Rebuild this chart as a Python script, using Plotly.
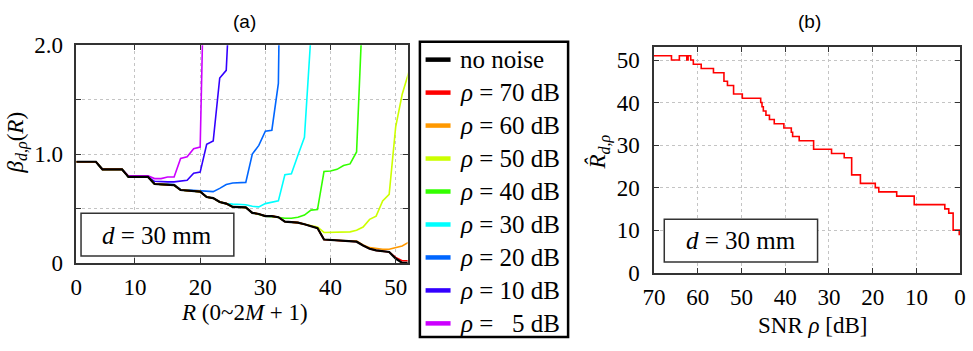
import plotly.graph_objects as go

# ---- (a) beta_{d,rho}(R) versus model order index R ----
R_INDEX = list(range(1, 53))

beta_no_noise = [0.93, 0.93, 0.93, 0.93, 0.86, 0.86, 0.86, 0.86, 0.79, 0.79,
                 0.79, 0.79, 0.725, 0.72, 0.72, 0.715, 0.67, 0.665, 0.66, 0.655,
                 0.605, 0.595, 0.56, 0.545, 0.515, 0.515, 0.51, 0.46, 0.45, 0.43,
                 0.43, 0.42, 0.38, 0.375, 0.37, 0.355, 0.34, 0.32, 0.215, 0.21,
                 0.205, 0.205, 0.2, 0.195, 0.16, 0.13, 0.115, 0.105, 0.1, 0.04,
                 0.0, 0.0]
beta_70db = [0.93, 0.93, 0.93, 0.93, 0.86, 0.86, 0.86, 0.86, 0.79, 0.79,
             0.79, 0.79, 0.725, 0.72, 0.72, 0.715, 0.67, 0.665, 0.66, 0.655,
             0.605, 0.595, 0.56, 0.545, 0.515, 0.515, 0.51, 0.46, 0.45, 0.43,
             0.43, 0.42, 0.38, 0.375, 0.37, 0.355, 0.34, 0.32, 0.215, 0.21,
             0.205, 0.205, 0.2, 0.195, 0.16, 0.13, 0.115, 0.105, 0.1, 0.05,
             0.02, 0.02]
beta_60db = [0.93, 0.93, 0.93, 0.93, 0.86, 0.86, 0.86, 0.86, 0.79, 0.79,
             0.79, 0.79, 0.725, 0.72, 0.72, 0.715, 0.67, 0.665, 0.66, 0.655,
             0.605, 0.595, 0.56, 0.545, 0.515, 0.515, 0.51, 0.46, 0.45, 0.43,
             0.43, 0.42, 0.38, 0.375, 0.37, 0.355, 0.34, 0.32, 0.215, 0.21,
             0.205, 0.205, 0.2, 0.2, 0.165, 0.14, 0.13, 0.125, 0.125, 0.14,
             0.155, 0.19]
beta_50db = [0.93, 0.93, 0.93, 0.93, 0.86, 0.86, 0.86, 0.86, 0.79, 0.79,
             0.79, 0.79, 0.725, 0.72, 0.72, 0.715, 0.67, 0.665, 0.66, 0.655,
             0.605, 0.595, 0.56, 0.545, 0.515, 0.515, 0.51, 0.46, 0.45, 0.43,
             0.43, 0.42, 0.38, 0.375, 0.37, 0.355, 0.34, 0.33, 0.28, 0.28,
             0.28, 0.28, 0.285, 0.30, 0.33, 0.40, 0.43, 0.57, 0.63, 1.25,
             1.55, 1.75]
beta_40db = [0.93, 0.93, 0.93, 0.93, 0.86, 0.86, 0.86, 0.86, 0.79, 0.79,
             0.79, 0.79, 0.725, 0.72, 0.72, 0.715, 0.67, 0.665, 0.66, 0.655,
             0.605, 0.595, 0.56, 0.545, 0.515, 0.515, 0.51, 0.46, 0.445, 0.43,
             0.425, 0.415, 0.41, 0.41, 0.42, 0.44, 0.485, 0.49, 0.84, 0.845,
             0.86, 0.895, 0.91, 1.02, 2.45]
beta_30db = [0.93, 0.93, 0.93, 0.93, 0.86, 0.86, 0.86, 0.86, 0.79, 0.79,
             0.79, 0.79, 0.725, 0.72, 0.72, 0.715, 0.67, 0.665, 0.66, 0.655,
             0.605, 0.595, 0.56, 0.545, 0.54, 0.535, 0.535, 0.52, 0.515, 0.545,
             0.555, 0.57, 0.81, 0.82, 0.99, 1.155, 2.1]
beta_20db = [0.93, 0.93, 0.93, 0.93, 0.86, 0.86, 0.86, 0.86, 0.79, 0.79,
             0.79, 0.79, 0.73, 0.725, 0.72, 0.72, 0.675, 0.67, 0.665, 0.665,
             0.66, 0.655, 0.685, 0.72, 0.735, 0.735, 0.74, 1.0, 1.08, 1.21,
             1.22, 1.65, 6.0]
beta_10db = [0.93, 0.93, 0.93, 0.93, 0.86, 0.86, 0.86, 0.86, 0.79, 0.79,
             0.79, 0.79, 0.75, 0.745, 0.745, 0.745, 0.755, 0.76, 0.825, 0.835,
             1.09, 1.12, 1.70, 1.77, 3.0]
beta_5db = [0.93, 0.93, 0.93, 0.93, 0.86, 0.86, 0.86, 0.86, 0.80, 0.80,
            0.80, 0.80, 0.775, 0.775, 0.79, 0.79, 0.96, 0.975, 1.05, 1.065,
            3.8]

SERIES_NAMES = ["no noise", "<i>ρ</i> = 70 dB", "<i>ρ</i> = 60 dB", "<i>ρ</i> = 50 dB",
                "<i>ρ</i> = 40 dB", "<i>ρ</i> = 30 dB", "<i>ρ</i> = 20 dB",
                "<i>ρ</i> = 10 dB", "<i>ρ</i> =\u00a0\u00a0\u00a05 dB"]
SERIES_VALUES = [beta_no_noise, beta_70db, beta_60db, beta_50db, beta_40db,
                 beta_30db, beta_20db, beta_10db, beta_5db]
SERIES_COLORS = ["#000000", "#ff0000", "#ff9900", "#ccff00", "#33ff00",
                 "#00ffff", "#0066ff", "#3300ff", "#cc00ff"]

X_TICK_VALS = [1, 10, 20, 30, 40, 50]
X_TICK_TEXT = ["0", "10", "20", "30", "40", "50"]
Y_TICK_VALS = [0, 0.5, 1.0, 1.5, 2.0]
Y_TICK_TEXT = ["0", "", "1.0", "", "2.0"]

# ---- (b) estimated order R-hat versus SNR (step curve) ----
snr_db = [70, 66.0, 64.2, 62.5, 62.2, 61.6, 61.0, 59.2, 56.4, 54.0,
          53.2, 51.8, 49.8, 45.6, 45.3, 45.0, 44.4, 43.6, 42.5, 40.3,
          38.6, 38.3, 36.8, 33.5, 29.4, 26.5, 24.8, 22.8, 19.4, 18.6,
          14.5, 10.5, 3.5, 2.6, 1.6, 0.2, 0.0]
r_hat = [51, 50, 51, 50, 51, 50, 49, 48, 47, 45,
         44, 42, 41, 40, 39, 38, 37, 36, 35, 34,
         33, 32, 31, 29, 28, 27, 23, 21, 20, 19,
         18, 16, 15, 14, 10, 9, 9]
SNR_TICKS = [70, 60, 50, 40, 30, 20, 10, 0]
RHAT_TICKS = [0, 10, 20, 30, 40, 50]

SERIF = "Liberation Serif, Times New Roman, serif"
W, H = 973, 351
# the page body keeps a small default margin; screen positions are mapped
# back into figure coordinates before being used as paper fractions
PAGE_MARGIN = 8
SX = W / (W + 2 * PAGE_MARGIN)
SY = H / (H + 2 * PAGE_MARGIN)


def px_x(p):
    return min(1.0, max(0.0, (p / SX - PAGE_MARGIN) / W))


def px_y(p):
    return min(1.0, max(0.0, 1 - (p / SY - PAGE_MARGIN) / H))


fig = go.Figure()

# colored curves first so the noiseless curve sits on top
for idx in reversed(range(len(SERIES_VALUES))):
    vals = SERIES_VALUES[idx]
    fig.add_trace(go.Scatter(
        x=R_INDEX[:len(vals)], y=vals, mode="lines", name=SERIES_NAMES[idx],
        showlegend=False,
        line=dict(color=SERIES_COLORS[idx], width=2.2 if idx == 0 else 1.6),
        xaxis="x", yaxis="y", hoverinfo="skip",
    ))

fig.add_trace(go.Scatter(
    x=snr_db, y=r_hat, mode="lines", line=dict(color="#ff0000", width=1.6, shape="hv"),
    showlegend=False, xaxis="x2", yaxis="y2", hoverinfo="skip",
))

axis_common = dict(
    showgrid=True, gridcolor="#c4c4c4", griddash="dot", gridwidth=1,
    showline=True, linecolor="#333333", linewidth=1.5, mirror="ticks",
    ticks="inside", ticklen=5, tickcolor="#333333", zeroline=False,
    ticklabeloverflow="allow",
)
TICKFONT = dict(family=SERIF, size=23, color="black")

fig.update_layout(
    width=W, height=H, margin=dict(l=0, r=0, t=0, b=0),
    paper_bgcolor="white", plot_bgcolor="white", showlegend=False,
    xaxis=dict(domain=[px_x(73.3), px_x(405)], range=[1, 51.83],
               tickvals=X_TICK_VALS, ticktext=X_TICK_TEXT, anchor="y",
               tickfont=TICKFONT, ticklabelstandoff=3, **axis_common),
    yaxis=dict(domain=[px_y(266), px_y(42)], range=[0, 2.0],
               tickvals=Y_TICK_VALS, ticktext=Y_TICK_TEXT, anchor="x",
               tickfont=TICKFONT, ticklabelstandoff=7, **axis_common),
    xaxis2=dict(domain=[px_x(651.7), 966 / W], range=[70, 0],
                tickvals=SNR_TICKS, anchor="y2", tickfont=TICKFONT,
                ticklabelstandoff=3, **axis_common),
    yaxis2=dict(domain=[px_y(276), px_y(44)], range=[0, 53],
                tickvals=RHAT_TICKS, anchor="x2",
                tickfont=TICKFONT, ticklabelstandoff=8, **axis_common),
)

annotations = [
    dict(text="(a)", x=px_x(242), y=px_y(17), font=dict(family="Liberation Sans", size=19)),
    dict(text="(b)", x=px_x(807), y=px_y(17), font=dict(family="Liberation Sans", size=19)),
    dict(text="<i>β</i><sub><i>d,ρ</i></sub>(<i>R</i>)", x=px_x(14), y=px_y(142),
         textangle=-90, font=dict(family=SERIF, size=23)),
    dict(text="<i>R</i> (0~2<i>M</i> + 1)", x=px_x(242), y=px_y(317),
         font=dict(family=SERIF, size=23)),
    dict(text="<i>R̂</i><sub><i>d,ρ</i></sub>", x=px_x(597), y=px_y(152),
         textangle=-90, font=dict(family=SERIF, size=23)),
    dict(text="SNR <i>ρ</i> [dB]", x=px_x(810), y=px_y(330),
         font=dict(family=SERIF, size=23)),
    dict(text="<i>d</i> = 30 mm", x=px_x(154.5), y=px_y(237.5),
         font=dict(family=SERIF, size=25)),
    dict(text="<i>d</i> = 30 mm", x=px_x(739), y=px_y(243),
         font=dict(family=SERIF, size=25)),
]
for a in annotations:
    a.setdefault("xanchor", "center")

# legend panel: framed list of line samples with their labels
LEG_LEFT, LEG_TOP, LEG_RIGHT, LEG_BOTTOM = 417.3, 38.3, 565.7, 346.7
LEG_ROW0, LEG_STEP = 56.7, 33.95
fig.add_shape(type="rect", xref="paper", yref="paper",
              x0=px_x(LEG_LEFT), x1=px_x(LEG_RIGHT), y0=px_y(LEG_BOTTOM) + 0.003,
              y1=px_y(LEG_TOP),
              line=dict(color="black", width=2.5), fillcolor="white", layer="above")
for i, (name, color) in enumerate(zip(SERIES_NAMES, SERIES_COLORS)):
    row = LEG_ROW0 + i * LEG_STEP
    fig.add_shape(type="line", xref="paper", yref="paper",
                  x0=px_x(423), x1=px_x(448), y0=px_y(row), y1=px_y(row),
                  line=dict(color=color, width=4.5), layer="above")
    annotations.append(dict(text=name, x=px_x(455), y=px_y(row), xanchor="left",
                            font=dict(family=SERIF, size=25)))

for a in annotations:
    a.update(xref="paper", yref="paper", showarrow=False, yanchor="middle")
    a["font"]["color"] = "black"
fig.update_layout(annotations=annotations)

# boxed distance label in each panel
for (x0, y0, x1, y1) in [(78, 215, 231, 259), (662, 221, 815.5, 265)]:
    fig.add_shape(type="rect", xref="paper", yref="paper",
                  x0=px_x(x0), x1=px_x(x1), y0=px_y(y1), y1=px_y(y0),
                  line=dict(color="#333333", width=1.5), fillcolor="white", layer="above")

fig.write_html("out.html")
